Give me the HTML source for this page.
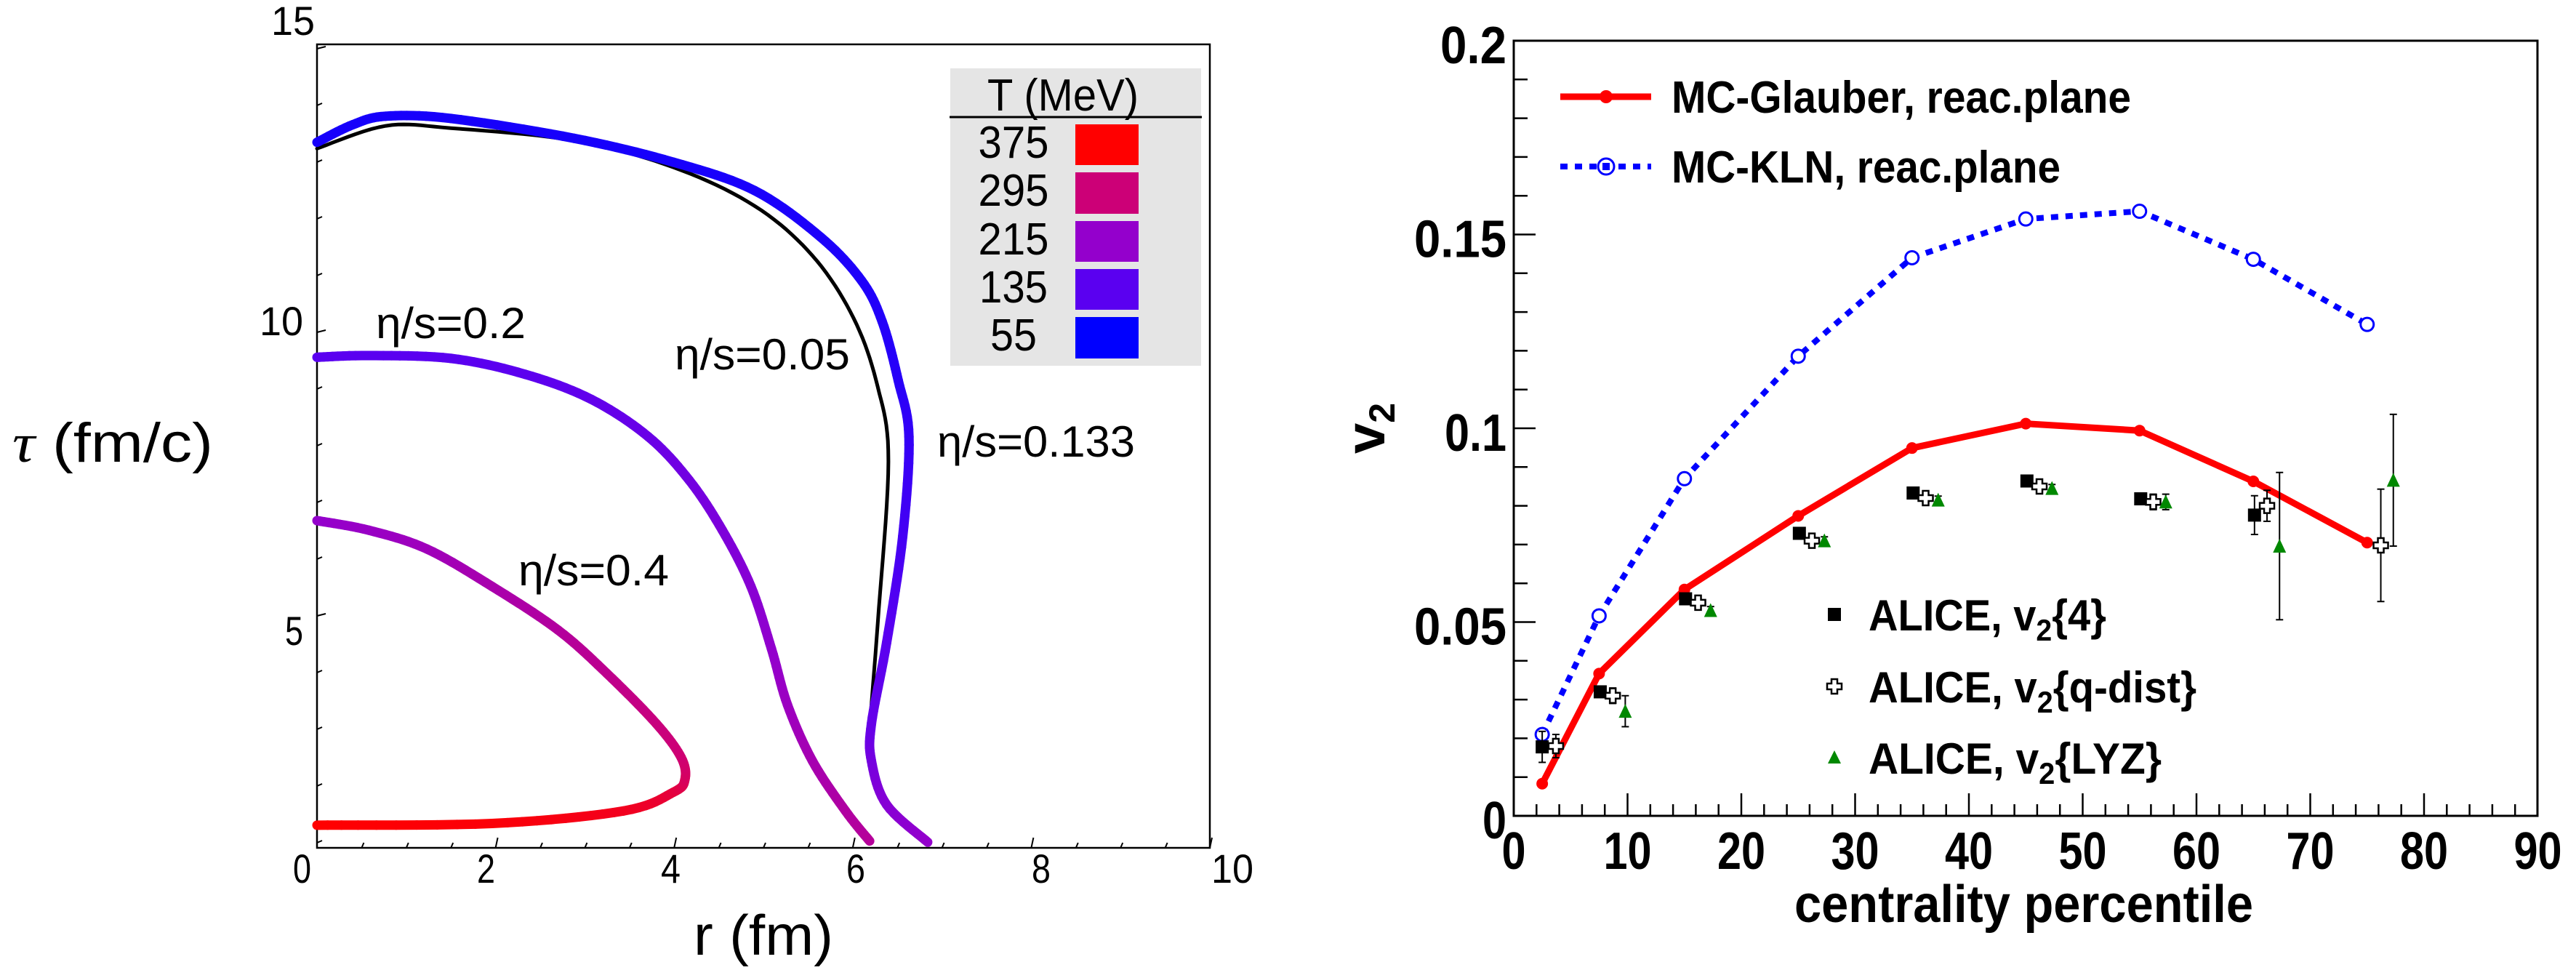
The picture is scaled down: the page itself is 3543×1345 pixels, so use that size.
<!DOCTYPE html>
<html>
<head>
<meta charset="utf-8">
<style>
html,body{margin:0;padding:0;background:#fff;}
svg{display:block;}
text{font-family:"Liberation Sans",Arial,sans-serif;}
</style>
</head>
<body>
<svg id="fig" width="3543" height="1345" viewBox="0 0 3543 1345" xmlns="http://www.w3.org/2000/svg">
  <rect x="0" y="0" width="3543" height="1345" fill="#fff"/>

  <!-- LEFT PANEL -->
  <g id="left">
    <rect x="436" y="61" width="1228" height="1105" fill="none" stroke="#000" stroke-width="2.5"/>
    <g id="leftTicks"></g>
    <g font-size="56">
      <text x="373" y="48" textLength="60" lengthAdjust="spacingAndGlyphs">15</text>
      <text x="357" y="461" textLength="60" lengthAdjust="spacingAndGlyphs">10</text>
      <text x="392" y="887" textLength="25" lengthAdjust="spacingAndGlyphs">5</text>
    </g>
    <g font-size="56">
      <text x="403" y="1214" textLength="25" lengthAdjust="spacingAndGlyphs">0</text>
      <text x="656" y="1214" textLength="25" lengthAdjust="spacingAndGlyphs">2</text>
      <text x="909" y="1214" textLength="27" lengthAdjust="spacingAndGlyphs">4</text>
      <text x="1164" y="1214" textLength="26" lengthAdjust="spacingAndGlyphs">6</text>
      <text x="1419" y="1214" textLength="26" lengthAdjust="spacingAndGlyphs">8</text>
      <text x="1666" y="1214" textLength="58" lengthAdjust="spacingAndGlyphs">10</text>
    </g>
    <text x="17" y="635" font-size="76" textLength="276" lengthAdjust="spacingAndGlyphs"><tspan font-family="'Liberation Serif',serif" font-style="italic">τ</tspan> (fm/c)</text>
    <text x="954" y="1313" font-size="78" textLength="192" lengthAdjust="spacingAndGlyphs">r (fm)</text>
    <g id="leftCurves"></g>
    <g font-size="60">
      <text x="517" y="465" textLength="206" lengthAdjust="spacingAndGlyphs">η/s=0.2</text>
      <text x="928" y="508" textLength="241" lengthAdjust="spacingAndGlyphs">η/s=0.05</text>
      <text x="1289" y="628" textLength="272" lengthAdjust="spacingAndGlyphs">η/s=0.133</text>
      <text x="713" y="805" textLength="207" lengthAdjust="spacingAndGlyphs">η/s=0.4</text>
    </g>
    <g>
      <rect x="1307" y="94" width="345" height="409" fill="#e5e5e5"/>
      <text x="1358" y="152" font-size="62" textLength="208" lengthAdjust="spacingAndGlyphs">T (MeV)</text>
      <line x1="1306" y1="161" x2="1653" y2="161" stroke="#000" stroke-width="3"/>
      <g font-size="62" text-anchor="middle">
        <text x="1394" y="217" textLength="97" lengthAdjust="spacingAndGlyphs">375</text>
        <text x="1394" y="283" textLength="97" lengthAdjust="spacingAndGlyphs">295</text>
        <text x="1394" y="350" textLength="97" lengthAdjust="spacingAndGlyphs">215</text>
        <text x="1394" y="416" textLength="94" lengthAdjust="spacingAndGlyphs">135</text>
        <text x="1394" y="482" textLength="64" lengthAdjust="spacingAndGlyphs">55</text>
      </g>
      <rect x="1479" y="171" width="87" height="56" fill="#ff0000"/>
      <rect x="1479" y="237" width="87" height="57" fill="#cc0077"/>
      <rect x="1479" y="304" width="87" height="56" fill="#9400cc"/>
      <rect x="1479" y="370" width="87" height="56" fill="#5a00f0"/>
      <rect x="1479" y="436" width="87" height="57" fill="#0000ff"/>
    </g>
  </g>

  <!-- RIGHT PANEL -->
  <g id="right">
    <g id="rightTicks"></g>
    <rect x="2082" y="56" width="1408" height="1066" fill="none" stroke="#000" stroke-width="3"/>
    <g id="rightLabels" font-weight="bold"></g>
    <text x="2468" y="1268" font-size="72" font-weight="bold" textLength="631" lengthAdjust="spacingAndGlyphs">centrality percentile</text>
    <text transform="translate(1904,624) rotate(-90)" font-size="76" font-weight="bold">v<tspan font-size="50" dy="14">2</tspan></text>
    <g id="rightMarks"></g>
    <g>
      <line x1="2146" y1="133" x2="2271" y2="133" stroke="#ff0000" stroke-width="9"/>
      <circle cx="2209" cy="133" r="9" fill="#ff0000"/>
      <text x="2299" y="155" font-size="62" font-weight="bold" textLength="632" lengthAdjust="spacingAndGlyphs">MC-Glauber, reac.plane</text>
      <line x1="2146" y1="229" x2="2271" y2="229" stroke="#0000ff" stroke-width="8" stroke-dasharray="10 10"/>
      <circle cx="2209" cy="229" r="11" fill="#fff" stroke="#0000ff" stroke-width="3"/>
      <rect x="2204" y="224" width="10" height="10" fill="#0000ff"/>
      <text x="2299" y="251" font-size="62" font-weight="bold" textLength="535" lengthAdjust="spacingAndGlyphs">MC-KLN, reac.plane</text>
    </g>
    <g font-size="60" font-weight="bold">
      <rect x="2514" y="836" width="18" height="18" fill="#000"/>
      <text x="2570" y="867" textLength="327" lengthAdjust="spacingAndGlyphs">ALICE, v<tspan font-size="42" dy="14">2</tspan><tspan dy="-14">{4}</tspan></text>
      <path d="M2519,934h8v6h6v8h-6v6h-8v-6h-6v-8h6z" fill="#fff" stroke="#000" stroke-width="2.5"/>
      <text x="2570" y="966" textLength="451" lengthAdjust="spacingAndGlyphs">ALICE, v<tspan font-size="42" dy="14">2</tspan><tspan dy="-14">{q-dist}</tspan></text>
      <path d="M2523,1032l9,18h-18z" fill="#008800"/>
      <text x="2570" y="1064" textLength="403" lengthAdjust="spacingAndGlyphs">ALICE, v<tspan font-size="42" dy="14">2</tspan><tspan dy="-14">{LYZ}</tspan></text>
    </g>
  </g>
</svg>
<script>
// ===== Left chart data: freeze-out surfaces (r in fm, tau in fm/c, T in MeV) =====
const tempStops = [55, 135, 215, 295, 375];
const tempColors = ["#0000ff", "#5a00f0", "#9400cc", "#cc0077", "#ff0000"];
const eta04R = [0, 1.96, 3.43, 3.99, 4.12, 4.08, 3.8, 3.25, 2.7, 1.96, 1.23, 0.58, 0];
const eta04Tau = [1.31, 1.34, 1.56, 1.89, 2.11, 2.5, 3.1, 3.98, 4.75, 5.52, 6.18, 6.51, 6.68];
const eta04T = [375, 370, 355, 335, 315, 300, 290, 275, 260, 245, 232, 222, 215];
const eta02R = [0, 0.58, 1.5, 2.33, 3.07, 3.71, 4.17, 4.54, 4.86, 5.09, 5.27, 5.55, 5.92, 6.19];
const eta02Tau = [9.56, 9.59, 9.54, 9.26, 8.82, 8.16, 7.39, 6.51, 5.52, 4.42, 3.43, 2.44, 1.56, 1.03];
const eta02T = [135, 135, 135, 138, 145, 155, 168, 182, 198, 212, 225, 240, 255, 262];
const eta0133R = [0, 0.4, 0.77, 1.5, 2.88, 3.99, 4.9, 5.64, 6.1, 6.33, 6.51, 6.63, 6.56, 6.38, 6.21, 6.21, 6.38, 6.84];
const eta0133Tau = [13.35, 13.66, 13.81, 13.77, 13.42, 13.0, 12.5, 11.68, 10.91, 10.19, 9.15, 8.16, 6.4, 4.53, 3.1, 2.44, 1.67, 1.01];
const eta0133T = [75, 75, 75, 75, 75, 76, 78, 80, 82, 86, 90, 100, 115, 135, 150, 170, 195, 215];
const eta005R = [0, 0.77, 1.5, 2.88, 3.99, 4.9, 5.55, 6.01, 6.28, 6.4, 6.28, 6.17];
const eta005Tau = [13.24, 13.64, 13.6, 13.38, 12.91, 12.23, 11.35, 10.25, 9.04, 7.72, 4.86, 2.66];

// ===== Right chart data: v2 vs centrality =====
const centBins = [2.5, 7.5, 15, 25, 35, 45, 55, 65, 75];
const glauberV2 = [0.0083, 0.0367, 0.0584, 0.0774, 0.0949, 0.1012, 0.0994, 0.0863, 0.0705];
const klnV2 = [0.021, 0.0516, 0.087, 0.1186, 0.144, 0.154, 0.156, 0.1436, 0.1268];
const v24Cent = [2.5, 7.6, 15.1, 25.1, 35.1, 45.1, 55.1, 65.1];
const v24Vals = [0.0178, 0.032, 0.056, 0.0729, 0.0833, 0.0864, 0.0818, 0.0776];
const v24Err = [0.004, 0.001, 0.001, 0.001, 0.001, 0.001, 0.0015, 0.005];
const qCent = [3.7, 8.7, 16.2, 26.2, 36.2, 46.2, 56.2, 66.2, 76.2];
const qVals = [0.018, 0.031, 0.055, 0.071, 0.082, 0.085, 0.081, 0.080, 0.0698];
const qErr = [0.003, 0.002, 0.001, 0.001, 0.001, 0.001, 0.002, 0.004, 0.0145];
const lyzCent = [9.8, 17.3, 27.3, 37.3, 47.3, 57.3, 67.3, 77.3];
const lyzVals = [0.027, 0.053, 0.071, 0.0815, 0.0845, 0.081, 0.0696, 0.0866];
const lyzErr = [0.004, 0.001, 0.001, 0.001, 0.001, 0.002, 0.019, 0.017];
const yTickVals = [0, 0.05, 0.1, 0.15, 0.2];
const yTickLabels = ["0", "0.05", "0.1", "0.15", "0.2"];
const xTickVals = [0, 10, 20, 30, 40, 50, 60, 70, 80, 90];
const xTickLabels = ["0", "10", "20", "30", "40", "50", "60", "70", "80", "90"];

const NS = "http://www.w3.org/2000/svg";
function mk(tag, attrs, parent) {
  const e = document.createElementNS(NS, tag);
  for (const k in attrs) e.setAttribute(k, attrs[k]);
  parent.appendChild(e);
  return e;
}
// axis functions
const Lx = r => 436 + 122.8 * r;
const Ly = t => 1237 - 78 * t;
const Rx = c => 2082 + 15.65 * c;
const Ry = v => 1122 - 5330 * v;

function hex2rgb(h) { return [1, 3, 5].map(i => parseInt(h.substr(i, 2), 16)); }
function tempColor(T) {
  if (T <= tempStops[0]) return tempColors[0];
  for (let i = 0; i < tempStops.length - 1; i++) {
    if (T <= tempStops[i + 1]) {
      const f = (T - tempStops[i]) / (tempStops[i + 1] - tempStops[i]);
      const a = hex2rgb(tempColors[i]), b = hex2rgb(tempColors[i + 1]);
      return "rgb(" + a.map((v, j) => Math.round(v + (b[j] - v) * f)).join(",") + ")";
    }
  }
  return tempColors[tempColors.length - 1];
}
// Catmull-Rom smoothing of a data series (in screen space)
function smooth(xs, ys, vs, steps) {
  const n = xs.length, out = [];
  const g = (a, i) => a[Math.max(0, Math.min(n - 1, i))];
  for (let i = 0; i < n - 1; i++) {
    for (let s = 0; s < steps; s++) {
      const t = s / steps, t2 = t * t, t3 = t2 * t;
      const cr = a => 0.5 * ((2 * g(a, i)) + (-g(a, i - 1) + g(a, i + 1)) * t +
        (2 * g(a, i - 1) - 5 * g(a, i) + 4 * g(a, i + 1) - g(a, i + 2)) * t2 +
        (-g(a, i - 1) + 3 * g(a, i) - 3 * g(a, i + 1) + g(a, i + 2)) * t3);
      out.push([cr(xs), cr(ys), vs ? vs[i] + (vs[i + 1] - vs[i]) * t : 0]);
    }
  }
  out.push([xs[n - 1], ys[n - 1], vs ? vs[n - 1] : 0]);
  return out;
}

// Left ticks
const lt = document.getElementById("leftTicks");
for (let t = 1; t <= 15; t++) {
  const tk = mk("line", {x1: Lx(0), y1: Ly(t), x2: Lx(0) + (t % 5 === 0 ? 12 : 7), y2: Ly(t) - 3, stroke: "#000", "stroke-width": 2}, lt);
  
  
}
for (let i = 1; i <= 20; i++) {
  const r = i * 0.5;
  const tk = mk("line", {x1: Lx(r), y1: 1166, x2: Lx(r) + 3, y2: 1166 - (i % 4 === 0 ? 14 : 7), stroke: "#000", "stroke-width": 2}, lt);
  
  
}

// Left curves
const lc = document.getElementById("leftCurves");
function drawColored(rs, ts, Ts, name) {
  const g = mk("g", {}, lc);
  
  
  const pts = smooth(rs.map(Lx), ts.map(Ly), Ts, 10);
  for (let i = 0; i < pts.length - 1; i++) {
    const seg = mk("line", {x1: pts[i][0], y1: pts[i][1], x2: pts[i + 1][0], y2: pts[i + 1][1],
      stroke: tempColor((pts[i][2] + pts[i + 1][2]) / 2), "stroke-width": 13, "stroke-linecap": "round"}, g);
    
    
  }
}
const bp = smooth(eta005R.map(Lx), eta005Tau.map(Ly), null, 10);
const blk = mk("path", {d: bp.map((p, i) => (i ? "L" : "M") + p[0].toFixed(1) + "," + p[1].toFixed(1)).join(""), fill: "none", stroke: "#000", "stroke-width": 5, "stroke-linejoin": "round", "stroke-linecap": "round"}, lc);


drawColored(eta04R, eta04Tau, eta04T, "curve-eta-s-0.4");
drawColored(eta02R, eta02Tau, eta02T, "curve-eta-s-0.2");
drawColored(eta0133R, eta0133Tau, eta0133T, "curve-eta-s-0.133");

// Right ticks
const rt = document.getElementById("rightTicks");
for (let i = 1; i < 20; i++) {
  const v = i * 0.01;
  const tk = mk("line", {x1: Rx(0), y1: Ry(v), x2: Rx(0) + (i % 5 === 0 ? 30 : 19), y2: Ry(v), stroke: "#000", "stroke-width": 2.5}, rt);
  
  
}
for (let c = 2; c < 90; c += 2) {
  const tk = mk("line", {x1: Rx(c), y1: 1122, x2: Rx(c), y2: 1122 - (c % 10 === 0 ? 31 : 16), stroke: "#000", "stroke-width": 2.5}, rt);
  
  
}
const rl = document.getElementById("rightLabels");
const yLabelW = {"0": 33, "0.05": 127, "0.1": 85, "0.15": 127, "0.2": 91};
yTickVals.forEach((v, i) => {
  const t = mk("text", {x: 2072, y: Ry(v) + 31, "font-size": 72, "text-anchor": "end", textLength: yLabelW[yTickLabels[i]], lengthAdjust: "spacingAndGlyphs"}, rl);
  t.textContent = yTickLabels[i];
  
  
});
xTickVals.forEach((c, i) => {
  const w = xTickLabels[i].length * 33;
  const t = mk("text", {x: Rx(c) - w / 2, y: 1195, "font-size": 72, textLength: w, lengthAdjust: "spacingAndGlyphs"}, rl);
  t.textContent = xTickLabels[i];
  
  
});

// Right marks
const rm = document.getElementById("rightMarks");
function errBar(x, v, e, name) {
  const g = mk("g", {stroke: "#000", "stroke-width": 2}, rm);
  
  
  mk("line", {x1: x, y1: Ry(v - e), x2: x, y2: Ry(v + e)}, g);
  mk("line", {x1: x - 5, y1: Ry(v - e), x2: x + 5, y2: Ry(v - e)}, g);
  mk("line", {x1: x - 5, y1: Ry(v + e), x2: x + 5, y2: Ry(v + e)}, g);
}
// KLN
const klnLine = mk("polyline", {points: centBins.map((c, i) => Rx(c) + "," + Ry(klnV2[i])).join(" "), fill: "none", stroke: "#0000ff", "stroke-width": 8, "stroke-dasharray": "10 10"}, rm);


centBins.forEach((c, i) => {
  const p = mk("circle", {cx: Rx(c), cy: Ry(klnV2[i]), r: 9, fill: "#fff", stroke: "#0000ff", "stroke-width": 3}, rm);
  
  
});
// Glauber
const glLine = mk("polyline", {points: centBins.map((c, i) => Rx(c) + "," + Ry(glauberV2[i])).join(" "), fill: "none", stroke: "#ff0000", "stroke-width": 9, "stroke-linejoin": "round"}, rm);


centBins.forEach((c, i) => {
  const p = mk("circle", {cx: Rx(c), cy: Ry(glauberV2[i]), r: 8, fill: "#ff0000"}, rm);
  
  
});
// v2{4}
v24Cent.forEach((c, i) => {
  errBar(Rx(c), v24Vals[i], v24Err[i], 'v24-error-bar');
  const p = mk("rect", {x: Rx(c) - 9, y: Ry(v24Vals[i]) - 9, width: 18, height: 18, fill: "#000"}, rm);
  
  
});
// q-dist
qCent.forEach((c, i) => {
  errBar(Rx(c), qVals[i], qErr[i], 'qdist-error-bar');
  const x = Rx(c), y = Ry(qVals[i]);
  const p = mk("path", {d: "M" + (x - 4) + "," + (y - 10) + "h8v6h6v8h-6v6h-8v-6h-6v-8h6z", fill: "#fff", stroke: "#000", "stroke-width": 2.5}, rm);
  
  
});
// LYZ
lyzCent.forEach((c, i) => {
  errBar(Rx(c), lyzVals[i], lyzErr[i], 'lyz-error-bar');
  const x = Rx(c), y = Ry(lyzVals[i]);
  const p = mk("path", {d: "M" + x + "," + (y - 10) + "l9,19h-18z", fill: "#008800"}, rm);
  
  
});
</script>
</body>
</html>
